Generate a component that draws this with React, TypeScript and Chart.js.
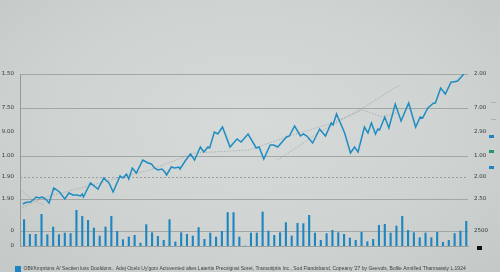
import { useEffect, useRef } from 'react';
import { Chart, registerables } from 'chart.js';

Chart.register(...registerables);

// ---- data ----
const categories: string[] = Array.from({ length: 77 }, (_, i) => `T${i + 1}`);

const volumes = [
  4450, 2000, 2000, 5330, 1950, 3220, 1950, 2220, 2120, 6000,
  5000, 4330, 3050, 1720, 3220, 5000, 2500, 1120, 1550, 1830,
  550, 3620, 2280, 1670, 1000, 4450, 720, 2280, 2000, 1720,
  3120, 1170, 2220, 1550, 2500, 5620, 5620, 1550, 60, 2220,
  2220, 5720, 2550, 1830, 2280, 3950, 1720, 3830, 3780, 5170,
  2220, 1000, 2120, 2670, 2280, 2000, 1380, 1000, 2330, 780,
  1170, 3500, 3670, 2220, 3380, 5000, 2670, 2280, 1450, 2220,
  1450, 2330, 670, 1000, 2120, 2550, 4170,
];

const lineT = [
  0, 0.3, 0.9, 1.3, 1.7, 2.3, 2.8, 3.3, 3.9, 4.5,
  5.3, 6.3, 7.2, 7.9, 8.6, 9.3, 9.9, 10.2, 10.4, 11.6,
  12.9, 13.9, 14.8, 15.5, 16.7, 17.2, 17.8, 18.2, 18.8, 19.5,
  20.6, 21.5, 22.1, 22.6, 23.2, 23.9, 24.4, 24.7, 25.5, 26.1,
  26.8, 27.0, 28.0, 28.8, 29.5, 30.5, 31.1, 31.8, 32.1, 32.9,
  33.5, 34.3, 35.6, 36.8, 37.5, 38.7, 40.1, 40.6, 41.4, 42.5,
  43.1, 43.8, 45.3, 45.8, 46.7, 47.7, 48.2, 48.8, 49.8, 51.0,
  52.0, 53.0, 53.3, 53.9, 55.3, 56.3, 57.0, 57.6, 58.7, 59.3,
  59.9, 60.6, 61.0, 61.3, 62.2, 62.9, 64.0, 65.0, 66.3, 67.5,
  68.3, 68.7, 69.6, 70.6, 70.9, 71.8, 72.6, 73.6, 74.0, 74.7,
  75.8,
];
const lineV = [
  42, 43, 44, 44, 46, 49, 48, 49, 47, 43,
  58, 54, 47, 53, 51, 51, 50, 52, 49, 63,
  57, 68, 63, 54, 70, 68, 72, 67, 78, 73,
  86, 83, 82, 78, 76, 77, 74, 71, 79, 78,
  79, 77, 86, 92, 86, 99, 94, 99, 98, 114,
  112, 119, 99, 107, 104, 112, 98, 99, 87, 101,
  101, 99, 109, 110, 120, 110, 112, 110, 103, 117,
  110, 123, 121, 132, 113, 93, 99, 94, 119, 113,
  123, 112, 117, 116, 129, 118, 142, 125, 143, 119,
  129, 128, 138, 143, 143, 158, 152, 164, 164, 165,
  172,
];

const trendAT = [-0.5, 3.4, 13.2, 21.8, 29.5, 38.9, 45.8, 52.7, 58.4, 61.8, 64.2];
const trendAV = [37, 48, 63, 76, 93, 96, 110, 122, 136, 129, 133];
const trendBT = [43.8, 51.0, 58.4, 64.7];
const trendBV = [86, 114, 138, 161];
const trendCT = [-0.5, 1.7, 3.7];
const trendCV = [57, 46, 41];

const leftTickValues = [172, 138, 114, 90, 69, 47, 15, 0];
const leftTickLabels = ['1.50', '7.50', '9.00', '1.00', '1.90', '1.90', '0', '0'];
const leftGridValues = [172, 138, 90, 47, 15];
const rightTickValues = [172, 138, 114, 90, 69, 47, 15];
const rightTickLabels = ['2.00', '7.00', '2.90', '1.00', '2.00', '2.50', '2500'];
const dashedGridValues = [69];

const legendText =
  "OBI/Kmprions A/ Sectien luss Dooldons.  Adej Ocels Uy'gom Actuvented altes Laterits Precsignat Soret, Transotiptis Inc., Sod Flandsband, Copeany '27 by Geevols, Bollie Amrilled Thamsaraty L.1924";

const pts = (t: number[], v: number[]) => t.map((x, i) => ({ x, y: v[i] }));

const legendShift = {
  id: 'legendShift',
  afterLayout(chart: any) {
    const l = chart.legend;
    if (l) {
      l.top += 10;
      l.bottom += 10;
      l.left += 11;
      l.right += 11;
    }
  },
};

export default function App() {
  const ref = useRef<HTMLCanvasElement>(null);

  useEffect(() => {
    const trendStyle = {
      type: 'line' as const,
      xAxisID: 'xLine',
      yAxisID: 'y',
      borderColor: 'rgba(150,158,158,0.8)',
      borderWidth: 0.8,
      borderDash: [1.5, 1.5],
      pointRadius: 0,
      order: 2,
    };
    const chart = new Chart(ref.current!, {
      type: 'bar',
      data: {
        labels: categories,
        datasets: [
          {
            type: 'line',
            label: 'Price',
            data: pts(lineT, lineV),
            xAxisID: 'xLine',
            yAxisID: 'y',
            borderColor: '#1f8dc2',
            borderWidth: 1.5,
            pointRadius: 0,
            tension: 0,
            order: 1,
          },
          { ...trendStyle, label: 'Trend A', data: pts(trendAT, trendAV) },
          { ...trendStyle, label: 'Trend B', data: pts(trendBT, trendBV) },
          { ...trendStyle, label: 'Trend C', data: pts(trendCT, trendCV) },
          {
            type: 'bar',
            label: legendText,
            data: volumes,
            xAxisID: 'x',
            yAxisID: 'yBar',
            backgroundColor: '#1b86c2',
            borderWidth: 0,
            categoryPercentage: 0.8,
            barPercentage: 0.9,
            order: 3,
          },
        ] as any,
      },
      plugins: [legendShift],
      options: {
        responsive: false,
        animation: false,
        devicePixelRatio: 1,
        layout: { padding: { top: 74, left: 0, right: 0, bottom: 0 } },
        plugins: {
          tooltip: { enabled: false },
          legend: {
            display: true,
            position: 'bottom',
            align: 'start',
            labels: {
              boxWidth: 6,
              boxHeight: 6,
              padding: 4,
              color: '#3c4040',
              font: { family: 'Liberation Sans', size: 5, weight: 'normal' },
              filter: (item: any) => item.text === legendText,
            },
          },
        },
        scales: {
          x: {
            type: 'category',
            display: true,
            grid: { display: false },
            ticks: { display: false },
            border: { display: true, color: '#9a9e9c', width: 1 },
            afterFit: (s: any) => {
              s.height = 6;
            },
          },
          xLine: {
            type: 'linear',
            display: false,
            offset: false,
            min: -0.5,
            max: 76.5,
          },
          y: {
            type: 'linear',
            position: 'left',
            min: 0,
            max: 172,
            afterBuildTicks: (s: any) => {
              s.ticks = leftTickValues.map((v) => ({ value: v }));
            },
            afterFit: (s: any) => {
              s.width = 20;
            },
            ticks: {
              autoSkip: false,
              padding: 6,
              color: '#343838',
              font: { family: 'DejaVu Sans', size: 5.5 },
              callback: (_v: any, i: number) => leftTickLabels[i],
            },
            grid: {
              drawTicks: false,
              lineWidth: 1,
              color: (ctx: any) =>
                leftGridValues.includes(ctx.tick?.value) ? '#a2a6a4' : 'rgba(0,0,0,0)',
            },
            border: { display: true, color: '#959997', width: 1 },
          },
          yR: {
            type: 'linear',
            position: 'right',
            min: 0,
            max: 172,
            afterBuildTicks: (s: any) => {
              s.ticks = rightTickValues.map((v) => ({ value: v }));
            },
            afterFit: (s: any) => {
              s.width = 32;
            },
            ticks: {
              autoSkip: false,
              padding: 6,
              color: '#343838',
              font: { family: 'DejaVu Sans', size: 5.5 },
              callback: (_v: any, i: number) => rightTickLabels[i],
            },
            grid: {
              drawTicks: false,
              lineWidth: 1,
              color: (ctx: any) =>
                dashedGridValues.includes(ctx.tick?.value) ? '#9a9e9c' : 'rgba(0,0,0,0)',
            },
            border: { display: false, dash: [2, 2] },
          },
          yBar: {
            type: 'linear',
            display: false,
            min: 0,
            max: 28667,
          },
        },
      } as any,
    });
    return () => chart.destroy();
  }, []);

  const mark = (left: number, top: number, w: number, h: number, bg: string) => (
    <div style={{ position: 'absolute', left, top, width: w, height: h, background: bg }} />
  );

  return (
    <div
      style={{
        position: 'absolute',
        left: 0,
        top: 0,
        width: 500,
        height: 272,
        overflow: 'hidden',
        background:
          'radial-gradient(ellipse at 50% 45%, #d6dad8 0%, #cfd3d1 55%, #c4c9c7 100%)',
      }}
    >
      <canvas ref={ref} width={500} height={272} style={{ display: 'block' }} />
      {mark(491, 102, 5, 1, '#abb1af')}
      {mark(491, 119, 5, 1, '#abb1af')}
      {mark(489, 135, 5, 2.5, '#1b86c2')}
      {mark(489, 150, 5, 2.5, '#24986c')}
      {mark(489, 166, 5, 2.5, '#1b86c2')}
      {mark(477, 246, 5, 3.5, '#111111')}
    </div>
  );
}
